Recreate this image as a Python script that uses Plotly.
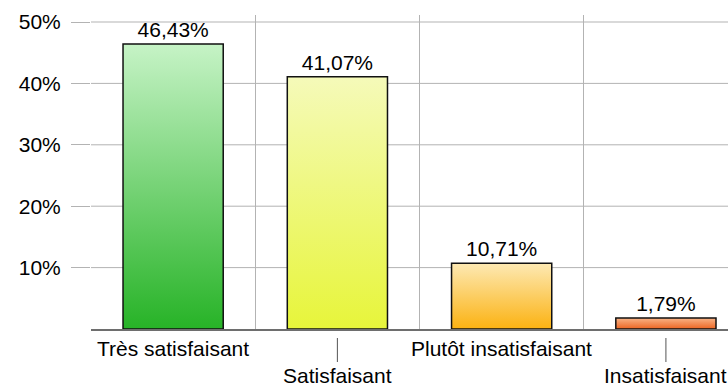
import base64
import plotly.graph_objects as go

# Satisfaction survey results (percent of respondents)
categories = ["Très satisfaisant", "Satisfaisant", "Plutôt insatisfaisant", "Insatisfaisant"]
values = [46.43, 41.07, 10.71, 1.79]
y_ticks = [10, 20, 30, 40, 50]
y_tick_labels = ["10%", "20%", "30%", "40%", "50%"]

# gradient fill per bar: (top colour, bottom colour)
grad_top = ["#c6f3c6", "#f5fab9", "#fde9b3", "#f9b487"]
grad_bottom = ["#27b327", "#e7f53a", "#fbb212", "#ec6522"]

BAR_W = 0.61
FONT = "Liberation Sans, Arial, sans-serif"
GRID = "#b3b3b3"


def gradient_uri(top, bottom):
    svg = (
        '<svg xmlns="http://www.w3.org/2000/svg" width="10" height="100" '
        'viewBox="0 0 10 100" preserveAspectRatio="none">'
        '<defs><linearGradient id="g" x1="0" y1="0" x2="0" y2="1">'
        f'<stop offset="0" stop-color="{top}"/>'
        f'<stop offset="1" stop-color="{bottom}"/>'
        '</linearGradient></defs>'
        '<rect width="10" height="100" fill="url(#g)"/></svg>'
    )
    return "data:image/svg+xml;base64," + base64.b64encode(svg.encode()).decode()


xs = list(range(len(categories)))

fig = go.Figure()
fig.add_trace(go.Bar(
    x=xs,
    y=values,
    width=BAR_W,
    marker=dict(color="rgba(0,0,0,0)", line=dict(color="#111111", width=1.5)),
    texttemplate="%{y:.2f}%",
    textposition="outside",
    textfont=dict(family=FONT, size=21, color="black"),
    cliponaxis=False,
    hovertemplate="%{customdata}: %{y:.2f}%<extra></extra>",
    customdata=categories,
))

# gradient fills sit underneath the outlined bars
images = []
for x, v, t, b in zip(xs, values, grad_top, grad_bottom):
    images.append(dict(
        source=gradient_uri(t, b),
        xref="x", yref="y",
        x=x - BAR_W / 2, y=v,
        sizex=BAR_W, sizey=v,
        xanchor="left", yanchor="top",
        sizing="stretch", layer="below",
    ))

# horizontal grid lines drawn below the bars
shapes = []
for t in y_ticks:
    shapes.append(dict(
        type="line", xref="x domain", yref="y",
        x0=0, x1=1, y0=t, y1=t,
        line=dict(color=GRID, width=1), layer="below",
    ))

# category labels, every other one dropped to a second row with a connector
annotations = []
for i, name in enumerate(categories):
    if i % 2 == 0:
        annotations.append(dict(
            x=i, y=0, xref="x", yref="y", text=name,
            showarrow=False, yanchor="middle", yshift=-19,
            font=dict(family=FONT, size=21, color="black"),
        ))
    else:
        annotations.append(dict(
            x=i, y=0, xref="x", yref="y", text=name,
            showarrow=True, arrowhead=0, arrowwidth=1, arrowcolor="#555555",
            ax=0, ay=46, standoff=9,
            font=dict(family=FONT, size=21, color="black"),
        ))

fig.update_layout(
    width=728, height=386,
    margin=dict(l=91, r=0, t=15, b=57),
    paper_bgcolor="white",
    plot_bgcolor="rgba(0,0,0,0)",
    separators=", ",
    showlegend=False,
    images=images,
    shapes=shapes,
    annotations=annotations,
    font=dict(family=FONT, size=21, color="black"),
)
fig.update_xaxes(
    range=[-0.5, 3.378],
    tickvals=[-0.5, 0.5, 1.5, 2.5, 3.5],
    showticklabels=False,
    ticks="",
    showgrid=True, gridcolor=GRID, gridwidth=1,
    zeroline=False,
    showline=True, linecolor="#6e6e6e", linewidth=1.5,
    fixedrange=True,
)
fig.update_yaxes(
    range=[0, 51.14],
    tickvals=y_ticks,
    ticktext=y_tick_labels,
    ticks="outside", ticklen=19, tickcolor=GRID, tickwidth=1,
    ticklabelstandoff=6,
    showgrid=False,
    zeroline=False,
    showline=False,
    tickfont=dict(family=FONT, size=21, color="black"),
    fixedrange=True,
)

fig.write_html("out.html")
